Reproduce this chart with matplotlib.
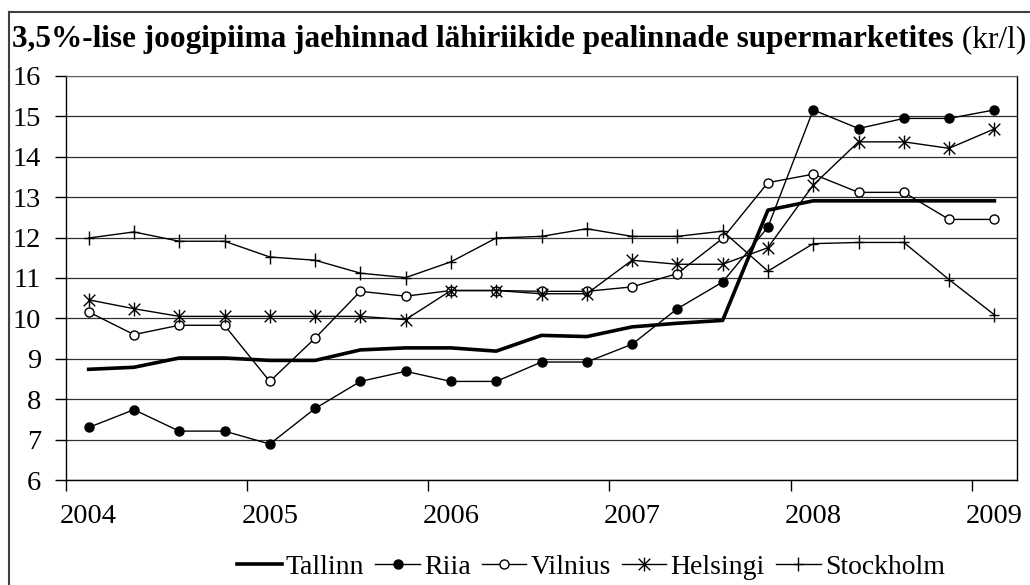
import matplotlib
matplotlib.use('Agg')
import matplotlib.pyplot as plt
from matplotlib.path import Path
from matplotlib.lines import Line2D
import numpy as np

plt.rcParams['font.family'] = ['Liberation Serif', 'DejaVu Serif']

years = ['2004', '2005', '2006', '2007', '2008', '2009']
# quarterly prices, 2004 Q1 .. 2009 Q1
tallinn = [8.74, 8.79, 9.02, 9.02, 8.96, 8.96, 9.22, 9.27, 9.27, 9.19, 9.58,
           9.55, 9.79, 9.88, 9.95, 12.68, 12.91, 12.91, 12.91, 12.91, 12.91]
riia = [7.30, 7.74, 7.21, 7.21, 6.89, 7.77, 8.44, 8.69, 8.44, 8.44, 8.92,
        8.92, 9.36, 10.24, 10.90, 12.26, 15.16, 14.70, 14.95, 14.95, 15.16]
vilnius = [10.16, 9.60, 9.83, 9.83, 8.44, 9.51, 10.67, 10.55, 10.69, 10.69, 10.67,
           10.67, 10.78, 11.11, 11.98, 13.36, 13.57, 13.12, 13.12, 12.45, 12.45]
helsingi = [10.46, 10.24, 10.05, 10.05, 10.05, 10.05, 10.05, 9.97, 10.69, 10.69, 10.61,
            10.61, 11.44, 11.34, 11.34, 11.75, 13.30, 14.37, 14.37, 14.21, 14.69]
stockholm = [11.99, 12.14, 11.91, 11.91, 11.52, 11.44, 11.12, 11.01, 11.40, 11.99, 12.03,
             12.22, 12.03, 12.03, 12.16, 11.17, 11.85, 11.88, 11.88, 10.96, 10.09]

x = np.arange(len(tallinn))

# excel-like markers
M, L = Path.MOVETO, Path.LINETO
star = Path([(-1, -1), (1, 1), (-1, 1), (1, -1), (0, -1.2), (0, 1.2)], [M, L, M, L, M, L])
plus = Path([(-0.7, 0), (0.7, 0), (0, -1), (0, 1)], [M, L, M, L])

fig = plt.figure(figsize=(10.3, 5.85), dpi=100)
ax = fig.add_axes([66/1030, 1 - 480/585, (1017 - 66)/1030, (480 - 76)/585])

ax.plot(x, tallinn, color='black', lw=2.6, label='Tallinn', zorder=3)
ax.plot(x, riia, color='black', lw=1, marker='o', ms=6.5, mfc='black', label='Riia', zorder=4)
ax.plot(x, vilnius, color='black', lw=1, marker='o', ms=6.5, mfc='white', mew=1, label='Vilnius', zorder=4)
ax.plot(x, helsingi, color='black', lw=1, marker=star, ms=10, mew=1, label='Helsingi', zorder=4)
ax.plot(x, stockholm, color='black', lw=1, marker=plus, ms=10, mew=1, label='Stockholm', zorder=4)

ax.set_xlim(-0.5, len(x) - 0.5)
ax.set_ylim(6, 16)
ax.set_yticks(range(6, 17))
ax.grid(axis='y', color='#303030', lw=0.9)
ax.set_axisbelow(True)

ax.set_xticks(np.arange(-0.5, len(x), 4))
ax.set_xticklabels([])
ax.set_xticks(np.arange(0, len(x), 4), minor=True)
ax.set_xticklabels(years, minor=True)
ax.tick_params(axis='x', which='major', length=8, width=1, direction='out')
ax.tick_params(axis='x', which='minor', length=0, pad=17, labelsize=20.5)
ax.tick_params(axis='y', length=8, width=1, pad=10, labelsize=20.5)

for s in ['left', 'bottom', 'right']:
    ax.spines[s].set_color('black')
    ax.spines[s].set_linewidth(1)
ax.spines['top'].set_color('#606060')

ax.legend(loc='center', bbox_to_anchor=(591/1030, (585 - 567) / 585), bbox_transform=fig.transFigure,
          ncol=5, frameon=False, fontsize=20, handlelength=1.6, handletextpad=0.15,
          columnspacing=0.4, borderaxespad=0)

t = fig.text(12/1030, 1 - 40/585, '3,5%-lise joogipiima jaehinnad lähiriikide pealinnade supermarketites',
             fontsize=22.5, fontweight='bold', va='center', ha='left')
ax.annotate(' (kr/l)', xy=(1, 0), xycoords=t, fontsize=22.5, va='bottom', ha='left',
            annotation_clip=False)

# outer chart frame
fig.add_artist(Line2D([9/1030, 9/1030], [0, 1 - 12/585], color='#404040', lw=1.5, transform=fig.transFigure))
fig.add_artist(Line2D([9/1030, 1], [1 - 12/585, 1 - 12/585], color='#404040', lw=1.5, transform=fig.transFigure))

plt.savefig('out.png', dpi=100)
